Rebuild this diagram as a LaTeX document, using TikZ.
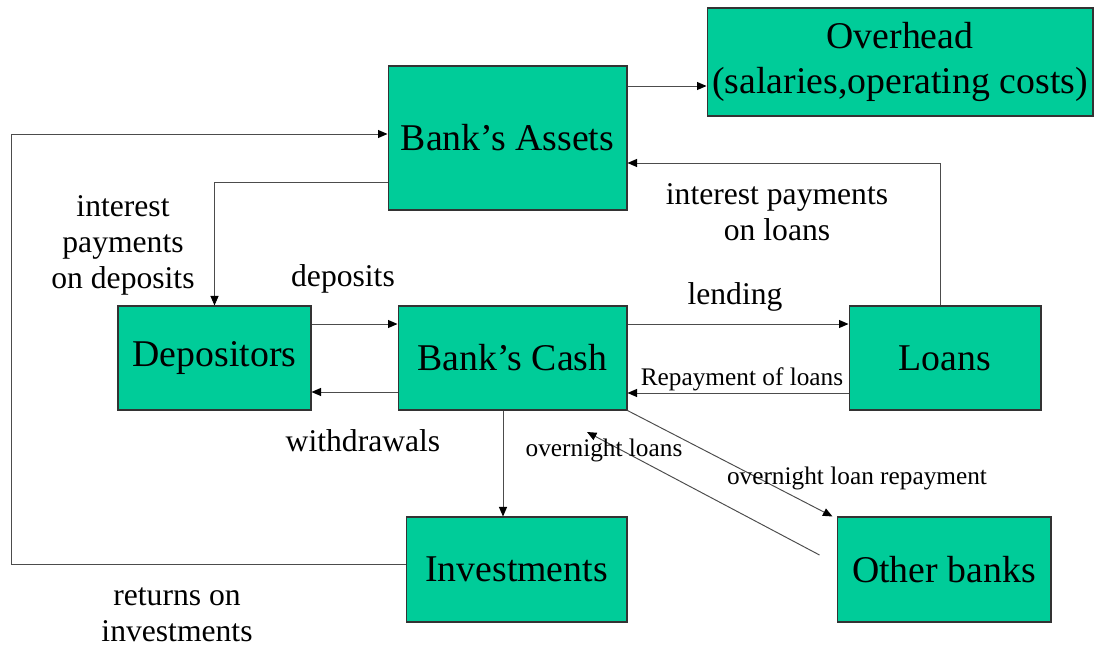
\documentclass[tikz,border=0pt]{standalone}
\usepackage{fontspec}
\setmainfont{Liberation Serif}
\usetikzlibrary{arrows.meta}
\definecolor{boxgreen}{RGB}{0,204,153}
\tikzset{
  acct/.style={draw=black!80, line width=0.6pt, fill=boxgreen, inner sep=0pt, align=center, font=\fontsize{21.5}{26}\selectfont},
  flow/.style={draw=black!70, line width=0.55pt, -{Triangle[length=0.19cm,width=0.16cm,color=black]}},
  lbl/.style={align=center, inner sep=0pt, font=\fontsize{18}{20.5}\selectfont},
  tinylbl/.style={inner sep=0pt, font=\fontsize{14.4}{17}\selectfont},
}
\begin{document}
\begin{tikzpicture}[x=0.02cm,y=-0.02cm]
\useasboundingbox (0,0) rectangle (1098,648);

\node[acct, minimum width=4.78cm, minimum height=2.88cm] (assets) at (507.5,138) {Bank’s Assets};
\node[acct, minimum width=7.72cm, minimum height=2.16cm] (overhead) at (900,62) {Overhead\\(salaries,operating costs)};
\node[acct, minimum width=3.86cm, minimum height=2.08cm] (depositors) at (214.5,358) {Depositors};
\node[acct, minimum width=4.58cm, minimum height=2.08cm] (cash) at (512.5,358) {Bank’s Cash};
\node[acct, minimum width=3.84cm, minimum height=2.08cm] (loans) at (945,358) {Loans};
\node[acct, minimum width=4.42cm, minimum height=2.10cm] (invest) at (516.5,569.5) {Investments};
\node[acct, minimum width=4.28cm, minimum height=2.10cm] (others) at (944,569.5) {Other banks};

\coordinate (ohout) at ([yshift=1.04cm]assets.east);
\draw[flow] (ohout) -- (ohout -| overhead.west);
\draw[flow] ([xshift=-0.1cm]loans.north) |- ([yshift=-0.5cm]assets.east);
\draw[flow] ([yshift=-0.88cm]assets.west) -| (depositors.north);
\draw[flow] ([yshift=0.1cm]invest.west) -- ++(-394,0) |- ([yshift=0.08cm]assets.west);
\draw[flow] ([yshift=0.68cm]depositors.east) -- ([yshift=0.68cm]cash.west);
\draw[flow] ([yshift=-0.68cm]cash.west) -- ([yshift=-0.68cm]depositors.east);
\draw[flow] ([yshift=0.68cm]cash.east) -- ([yshift=0.68cm]loans.west);
\draw[flow] ([yshift=-0.7cm]loans.west) -- ([yshift=-0.7cm]cash.east);
\coordinate (cashout) at ([xshift=-0.19cm]cash.south);
\draw[flow] (cashout) -- (cashout |- invest.north);
\draw[flow] (cash.south east) -- ([xshift=-0.08cm]others.north west);
\coordinate (ovtip) at (587,432);
\draw[flow] ([xshift=-0.34cm,yshift=0.29cm]others.west) -- (ovtip);

\node[lbl] (intdep) at (123,245) {interest\\payments\\on deposits};
\node[lbl] (deplbl) at (343,279) {deposits};
\node[lbl] (wdlbl) at (363,441) {withdrawals};
\node[lbl] (lendlbl) at (735,297) {lending};
\node[lbl] (intloan) at (777,212) {interest payments\\on loans};
\node[lbl] (retlbl) at (177,615) {returns on\\investments};
\node[tinylbl] (replbl) at (742,379) {Repayment of loans};
\node[tinylbl] (ovlbl) at (604,450) {overnight loans};
\node[tinylbl] (ovrep) at (857,478) {overnight loan repayment};
\end{tikzpicture}
\end{document}
